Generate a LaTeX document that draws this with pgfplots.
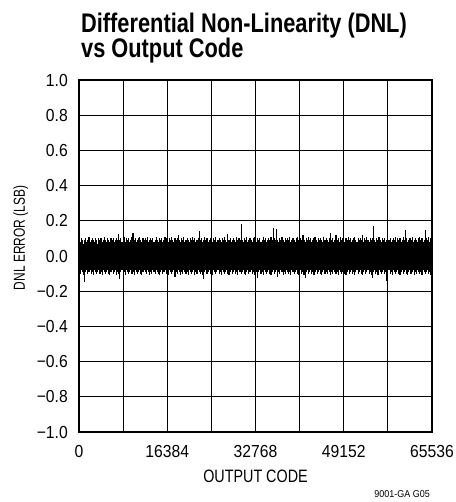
\documentclass[border=0pt]{standalone}
\usepackage{fontspec}
\setmainfont{Liberation Sans}
\newfontfamily\titlefont{Liberation Sans}[FakeStretch=0.81]
\newfontfamily\tickfont{Liberation Sans}[FakeStretch=0.9]
\newfontfamily\labelfont{Liberation Sans}[FakeStretch=0.8]
\newfontfamily\ylabelfont{Liberation Sans}[FakeStretch=0.75]
\newfontfamily\notefont{Liberation Sans}[FakeStretch=0.9]
\usepackage{pgfplots}
\pgfplotsset{compat=1.18}
\usepackage{pgfplotstable}

% DNL upper excursions, one value per code step of 204.8 codes
\pgfplotstableread[row sep=\\]{hi\\
0.09\\ 0.08\\ 0.10\\ 0.09\\ 0.07\\ 0.09\\ 0.10\\ 0.08\\ 0.09\\ 0.11\\
0.08\\ 0.09\\ 0.10\\ 0.09\\ 0.08\\ 0.10\\ 0.09\\ 0.07\\ 0.10\\ 0.09\\
0.10\\ 0.08\\ 0.09\\ 0.11\\ 0.09\\ 0.08\\ 0.10\\ 0.09\\ 0.08\\ 0.10\\
0.09\\ 0.10\\ 0.08\\ 0.09\\ 0.10\\ 0.09\\ 0.125\\ 0.09\\ 0.10\\ 0.08\\
0.09\\ 0.11\\ 0.08\\ 0.10\\ 0.09\\ 0.10\\ 0.08\\ 0.09\\ 0.11\\ 0.13\\
0.09\\ 0.10\\ 0.08\\ 0.09\\ 0.10\\ 0.11\\ 0.09\\ 0.08\\ 0.10\\ 0.09\\
0.10\\ 0.09\\ 0.11\\ 0.08\\ 0.09\\ 0.10\\ 0.09\\ 0.10\\ 0.08\\ 0.09\\
0.11\\ 0.09\\ 0.08\\ 0.10\\ 0.09\\ 0.10\\ 0.08\\ 0.09\\ 0.11\\ 0.10\\
0.09\\ 0.08\\ 0.10\\ 0.09\\ 0.11\\ 0.09\\ 0.08\\ 0.10\\ 0.09\\ 0.10\\
0.12\\ 0.09\\ 0.08\\ 0.10\\ 0.09\\ 0.11\\ 0.08\\ 0.09\\ 0.10\\ 0.09\\
0.08\\ 0.10\\ 0.09\\ 0.11\\ 0.09\\ 0.10\\ 0.08\\ 0.09\\ 0.10\\ 0.14\\
0.09\\ 0.10\\ 0.08\\ 0.09\\ 0.11\\ 0.09\\ 0.10\\ 0.08\\ 0.09\\ 0.10\\
0.09\\ 0.08\\ 0.10\\ 0.09\\ 0.11\\ 0.08\\ 0.09\\ 0.10\\ 0.09\\ 0.08\\
0.10\\ 0.09\\ 0.11\\ 0.09\\ 0.08\\ 0.125\\ 0.09\\ 0.10\\ 0.08\\ 0.09\\
0.10\\ 0.09\\ 0.08\\ 0.11\\ 0.09\\ 0.10\\ 0.09\\ 0.18\\ 0.09\\ 0.08\\
0.10\\ 0.09\\ 0.11\\ 0.08\\ 0.09\\ 0.10\\ 0.09\\ 0.08\\ 0.10\\ 0.11\\
0.09\\ 0.08\\ 0.10\\ 0.09\\ 0.10\\ 0.08\\ 0.09\\ 0.11\\ 0.09\\ 0.10\\
0.08\\ 0.09\\ 0.10\\ 0.09\\ 0.11\\ 0.09\\ 0.16\\ 0.10\\ 0.09\\ 0.155\\
0.09\\ 0.08\\ 0.10\\ 0.09\\ 0.11\\ 0.09\\ 0.08\\ 0.10\\ 0.09\\ 0.10\\
0.09\\ 0.11\\ 0.08\\ 0.09\\ 0.10\\ 0.09\\ 0.08\\ 0.10\\ 0.11\\ 0.09\\
0.08\\ 0.10\\ 0.09\\ 0.12\\ 0.09\\ 0.08\\ 0.10\\ 0.09\\ 0.11\\ 0.09\\
0.10\\ 0.08\\ 0.09\\ 0.10\\ 0.11\\ 0.09\\ 0.08\\ 0.10\\ 0.09\\ 0.10\\
0.09\\ 0.08\\ 0.11\\ 0.09\\ 0.10\\ 0.09\\ 0.08\\ 0.10\\ 0.13\\ 0.09\\
0.10\\ 0.08\\ 0.09\\ 0.12\\ 0.09\\ 0.10\\ 0.08\\ 0.11\\ 0.09\\ 0.10\\
0.09\\ 0.08\\ 0.10\\ 0.09\\ 0.11\\ 0.09\\ 0.10\\ 0.08\\ 0.09\\ 0.10\\
0.11\\ 0.09\\ 0.08\\ 0.10\\ 0.09\\ 0.10\\ 0.09\\ 0.12\\ 0.08\\ 0.10\\
0.09\\ 0.11\\ 0.09\\ 0.08\\ 0.10\\ 0.09\\ 0.10\\ 0.17\\ 0.09\\ 0.08\\
0.10\\ 0.09\\ 0.11\\ 0.09\\ 0.08\\ 0.10\\ 0.09\\ 0.10\\ 0.08\\ 0.09\\
0.11\\ 0.09\\ 0.10\\ 0.08\\ 0.09\\ 0.10\\ 0.09\\ 0.11\\ 0.08\\ 0.10\\
0.09\\ 0.10\\ 0.08\\ 0.09\\ 0.11\\ 0.09\\ 0.15\\ 0.10\\ 0.08\\ 0.09\\
0.10\\ 0.09\\ 0.11\\ 0.08\\ 0.09\\ 0.10\\ 0.09\\ 0.08\\ 0.10\\ 0.11\\
0.09\\ 0.10\\ 0.08\\ 0.09\\ 0.15\\ 0.10\\ 0.09\\ 0.11\\ 0.08\\ 0.10\\
0.09\\
}\dnlhi

% DNL lower excursions on the same code steps
\pgfplotstableread[row sep=\\]{lo\\
-0.09\\ -0.10\\ -0.08\\ -0.09\\ -0.11\\ -0.15\\ -0.09\\ -0.08\\ -0.10\\ -0.09\\
-0.08\\ -0.10\\ -0.09\\ -0.11\\ -0.08\\ -0.09\\ -0.10\\ -0.09\\ -0.08\\ -0.10\\
-0.09\\ -0.11\\ -0.08\\ -0.09\\ -0.10\\ -0.09\\ -0.08\\ -0.10\\ -0.11\\ -0.09\\
-0.08\\ -0.10\\ -0.09\\ -0.08\\ -0.11\\ -0.09\\ -0.10\\ -0.13\\ -0.09\\ -0.08\\
-0.10\\ -0.09\\ -0.11\\ -0.08\\ -0.09\\ -0.10\\ -0.09\\ -0.08\\ -0.10\\ -0.09\\
-0.11\\ -0.08\\ -0.09\\ -0.10\\ -0.09\\ -0.08\\ -0.10\\ -0.11\\ -0.09\\ -0.08\\
-0.09\\ -0.10\\ -0.08\\ -0.09\\ -0.11\\ -0.09\\ -0.10\\ -0.08\\ -0.09\\ -0.10\\
-0.08\\ -0.09\\ -0.10\\ -0.11\\ -0.09\\ -0.08\\ -0.10\\ -0.09\\ -0.08\\ -0.10\\
-0.09\\ -0.11\\ -0.08\\ -0.09\\ -0.10\\ -0.09\\ -0.08\\ -0.12\\ -0.09\\ -0.10\\
-0.08\\ -0.09\\ -0.11\\ -0.09\\ -0.10\\ -0.08\\ -0.09\\ -0.10\\ -0.09\\ -0.11\\
-0.08\\ -0.09\\ -0.10\\ -0.09\\ -0.08\\ -0.11\\ -0.09\\ -0.10\\ -0.08\\ -0.09\\
-0.10\\ -0.09\\ -0.11\\ -0.13\\ -0.09\\ -0.08\\ -0.10\\ -0.09\\ -0.08\\ -0.10\\
-0.09\\ -0.11\\ -0.08\\ -0.09\\ -0.10\\ -0.09\\ -0.08\\ -0.10\\ -0.09\\ -0.11\\
-0.08\\ -0.09\\ -0.10\\ -0.09\\ -0.08\\ -0.10\\ -0.11\\ -0.09\\ -0.08\\ -0.10\\
-0.09\\ -0.08\\ -0.10\\ -0.09\\ -0.11\\ -0.08\\ -0.09\\ -0.10\\ -0.09\\ -0.08\\
-0.10\\ -0.11\\ -0.09\\ -0.08\\ -0.10\\ -0.09\\ -0.08\\ -0.10\\ -0.09\\ -0.11\\
-0.08\\ -0.09\\ -0.125\\ -0.09\\ -0.08\\ -0.10\\ -0.09\\ -0.11\\ -0.08\\ -0.09\\
-0.10\\ -0.09\\ -0.08\\ -0.10\\ -0.11\\ -0.09\\ -0.08\\ -0.10\\ -0.09\\ -0.08\\
-0.12\\ -0.09\\ -0.10\\ -0.08\\ -0.09\\ -0.11\\ -0.09\\ -0.10\\ -0.08\\ -0.09\\
-0.10\\ -0.09\\ -0.11\\ -0.08\\ -0.09\\ -0.10\\ -0.09\\ -0.08\\ -0.10\\ -0.11\\
-0.09\\ -0.08\\ -0.10\\ -0.09\\ -0.11\\ -0.125\\ -0.09\\ -0.08\\ -0.10\\ -0.09\\
-0.08\\ -0.10\\ -0.09\\ -0.11\\ -0.09\\ -0.08\\ -0.10\\ -0.09\\ -0.08\\ -0.10\\
-0.11\\ -0.09\\ -0.08\\ -0.10\\ -0.09\\ -0.10\\ -0.08\\ -0.09\\ -0.11\\ -0.09\\
-0.10\\ -0.08\\ -0.09\\ -0.10\\ -0.09\\ -0.11\\ -0.08\\ -0.09\\ -0.10\\ -0.09\\
-0.08\\ -0.10\\ -0.11\\ -0.09\\ -0.08\\ -0.10\\ -0.09\\ -0.08\\ -0.10\\ -0.09\\
-0.11\\ -0.09\\ -0.08\\ -0.10\\ -0.09\\ -0.08\\ -0.10\\ -0.11\\ -0.09\\ -0.08\\
-0.10\\ -0.09\\ -0.08\\ -0.10\\ -0.09\\ -0.11\\ -0.125\\ -0.09\\ -0.08\\ -0.10\\
-0.09\\ -0.11\\ -0.08\\ -0.09\\ -0.10\\ -0.09\\ -0.08\\ -0.10\\ -0.09\\ -0.14\\
-0.09\\ -0.08\\ -0.10\\ -0.09\\ -0.11\\ -0.08\\ -0.09\\ -0.10\\ -0.09\\ -0.08\\
-0.10\\ -0.11\\ -0.09\\ -0.08\\ -0.10\\ -0.09\\ -0.08\\ -0.10\\ -0.11\\ -0.09\\
-0.08\\ -0.10\\ -0.09\\ -0.08\\ -0.11\\ -0.09\\ -0.10\\ -0.08\\ -0.09\\ -0.10\\
-0.09\\ -0.11\\ -0.08\\ -0.09\\ -0.10\\ -0.09\\ -0.08\\ -0.10\\ -0.09\\ -0.11\\
-0.09\\
}\dnllo

\begin{document}
\begin{tikzpicture}
\path[use as bounding box] (-79bp,-70bp) rectangle (377bp,432bp);
\begin{axis}[
  at={(0,0)}, anchor=south west,
  scale only axis, width=353bp, height=352bp,
  xmin=0, xmax=65536, ymin=-1, ymax=1,
  xtick={0,8192,16384,24576,32768,40960,49152,57344,65536},
  xticklabels={0,,16384,,32768,,49152,,65536},
  ytick={-1,-0.8,-0.6,-0.4,-0.2,0,0.2,0.4,0.6,0.8,1},
  yticklabels={−1.0,−0.8,−0.6,−0.4,−0.2,0.0,0.2,0.4,0.6,0.8,1.0},
  scaled x ticks=false,
  grid=major,
  major grid style={black, line width=0.9bp},
  axis line style={black, line width=1.2bp},
  major tick length=0pt,
  tick label style={font=\tickfont\fontsize{17.5}{20}\selectfont},
  yticklabel style={anchor=east, inner sep=0pt, xshift=-11bp},
  xticklabel style={anchor=north, inner sep=0pt, yshift=-13bp},
]
\addplot[ycomb, black, line width=1.15bp, mark=none]
  table[x expr=\coordindex*204.8, y=hi]{\dnlhi};
\addplot[ycomb, black, line width=1.15bp, mark=none]
  table[x expr=\coordindex*204.8, y=lo]{\dnllo};
\end{axis}

\node[anchor=base west, inner sep=0pt, font=\titlefont\bfseries\fontsize{27}{27}\selectfont]
  at (2bp,399bp) {Differential Non-Linearity (DNL)};
\node[anchor=base west, inner sep=0pt, font=\titlefont\bfseries\fontsize{27}{27}\selectfont]
  at (2bp,374bp) {vs Output Code};
\node[rotate=90, anchor=base, inner sep=0pt, font=\ylabelfont\fontsize{16}{18}\selectfont]
  at (-54bp,194bp) {DNL ERROR (LSB)};
\node[anchor=base, inner sep=0pt, font=\labelfont\fontsize{18}{20}\selectfont]
  at (176.5bp,-50bp) {OUTPUT CODE};
\node[anchor=base east, inner sep=0pt, font=\notefont\fontsize{10}{12}\selectfont]
  at (351bp,-65bp) {9001-GA G05};
\end{tikzpicture}
\end{document}
